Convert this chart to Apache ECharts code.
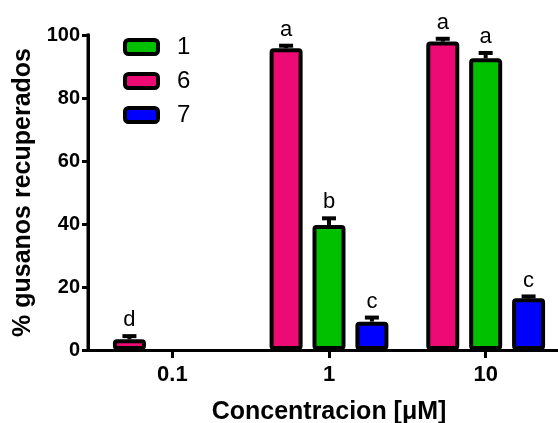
<!DOCTYPE html>
<html>
<head>
<meta charset="utf-8">
<script src="https://cdn.jsdelivr.net/npm/echarts@6/dist/echarts.min.js"></script>
<style>
  html, body { margin: 0; padding: 0; background: #fff; }
  #chart { width: 558px; height: 423px; }
</style>
</head>
<body>
<div id="chart"></div>
<script>
// datos
const categories = ['0.1', '1', '10'];
const yTicks = [0, 20, 40, 60, 80, 100];

const comp6 = [3.4, 95.8, 97.9];
const err6 = [1.0, 0.8, 0.9];
const lab6 = ['d', 'a', 'a'];

const comp1 = [null, 39.7, 92.6];
const err1 = [null, 2.1, 1.7];
const lab1 = [null, 'b', 'a'];

const comp7 = [null, 9.0, 16.4];
const err7 = [null, 1.3, 0.6];
const lab7 = [null, 'c', 'c'];

const FONT = '"Liberation Sans", Arial, sans-serif';
const barW = 33;
const gapRatio = 0.3;
const barStep = barW * (1 + gapRatio);
const capW = 14;

const W = 558, H = 423;
const gridTop = 35, gridBottom = 73;
const axisLeft = 88;

// filas para las barras de error: [categoria, valor, error, posicion en grupo]
const groups = [
  { name: '6', vals: comp6, errs: err6, labs: lab6, color: '#ee0a74' },
  { name: '1', vals: comp1, errs: err1, labs: lab1, color: '#00c000' },
  { name: '7', vals: comp7, errs: err7, labs: lab7, color: '#0000ff' }
];
const errRows = [];
const errLabels = [];
groups.forEach((g, k) => {
  g.vals.forEach((v, i) => {
    if (v == null) return;
    errRows.push([i, v, g.errs[i], k]);
    errLabels.push(g.labs[i]);
  });
});

const chart = echarts.init(document.getElementById('chart'));

function renderErr(params, api) {
  const ci = api.value(0), v = api.value(1), e = api.value(2), k = api.value(3);
  const base = api.coord([ci, v]);
  const top = api.coord([ci, v + e]);
  const x = base[0] + (k - 1) * barStep;
  return {
    type: 'group',
    children: [
      { type: 'rect', shape: { x: x - 2, y: top[1], width: 4, height: base[1] - top[1] }, style: { fill: '#000' } },
      { type: 'rect', shape: { x: x - capW / 2, y: top[1] - 2, width: capW, height: 4 }, style: { fill: '#000' } },
      {
        type: 'text', x: x, y: top[1] - 5,
        style: { text: errLabels[params.dataIndex], fill: '#000', font: '22px ' + FONT, align: 'center', verticalAlign: 'bottom' }
      }
    ]
  };
}

const axisText = { fontFamily: FONT, fontWeight: 'bold', color: '#000' };
const blackLine = { color: '#000', width: 3 };

const option = {
  animation: false,
  backgroundColor: '#fff',
  // grid 0: eje y; grid 1: barras (desplazado como en el original)
  grid: [
    { left: axisLeft, right: 0, top: gridTop, bottom: gridBottom, outerBoundsMode: 'none' },
    { left: 94, right: -6, top: gridTop, bottom: gridBottom, outerBoundsMode: 'none' }
  ],
  legend: {
    data: ['1', '6', '7'],
    orient: 'vertical',
    left: 118,
    top: 30,
    itemWidth: 33,
    itemHeight: 14,
    itemGap: 10,
    icon: 'roundRect',
    itemStyle: { borderColor: '#000', borderWidth: 4 },
    textStyle: { fontFamily: FONT, fontSize: 24, color: '#000', lineHeight: 24, padding: [0, 0, 0, 14] }
  },
  xAxis: [
    {
      gridIndex: 0,
      type: 'value',
      min: 0,
      max: 1,
      interval: 1,
      axisLine: { show: true, onZero: false, lineStyle: blackLine },
      axisTick: { show: false },
      axisLabel: { show: false },
      splitLine: { show: false }
    },
    {
      gridIndex: 1,
      type: 'category',
      data: categories,
      axisLine: { show: true, lineStyle: blackLine },
      axisTick: { show: true, alignWithLabel: true, length: 8, lineStyle: blackLine },
      axisLabel: Object.assign({ fontSize: 22, margin: 14 }, axisText),
      name: 'Concentracion [\u03bcM]',
      nameLocation: 'middle',
      nameGap: 50,
      nameTextStyle: Object.assign({ fontSize: 25 }, axisText)
    }
  ],
  yAxis: [
    {
      gridIndex: 0,
      type: 'value',
      min: yTicks[0],
      max: yTicks[yTicks.length - 1],
      interval: 20,
      splitLine: { show: false },
      axisLine: { show: true, onZero: false, lineStyle: blackLine },
      axisTick: { show: true, length: 6, lineStyle: blackLine },
      axisLabel: Object.assign({ fontSize: 20, margin: 8 }, axisText),
      name: '% gusanos recuperados',
      nameLocation: 'middle',
      nameGap: 52,
      nameTextStyle: Object.assign({ fontSize: 25 }, axisText)
    },
    {
      gridIndex: 1,
      type: 'value',
      min: yTicks[0],
      max: yTicks[yTicks.length - 1],
      interval: 20,
      show: false
    }
  ],
  // eje y dibujado como rectangulo en una capa propia
  graphic: [{
    type: 'rect',
    zlevel: 1,
    z: 100,
    shape: { x: axisLeft - 1.5, y: gridTop - 1.5, width: 3, height: H - gridBottom - gridTop + 3 },
    style: { fill: '#000' }
  }],
  series: groups.map(g => ({
    name: g.name,
    type: 'bar',
    xAxisIndex: 1,
    yAxisIndex: 1,
    barWidth: barW,
    barGap: (gapRatio * 100) + '%',
    data: g.vals.map(v => (v == null ? '-' : v)),
    itemStyle: { color: g.color, borderColor: '#000', borderWidth: 4, borderRadius: 2 }
  })).concat([{
    type: 'custom',
    xAxisIndex: 1,
    yAxisIndex: 1,
    renderItem: renderErr,
    data: errRows,
    z: 5,
    silent: true
  }])
};

chart.setOption(option);

window.addEventListener('resize', function () {
  chart.resize();
});
</script>
</body>
</html>
